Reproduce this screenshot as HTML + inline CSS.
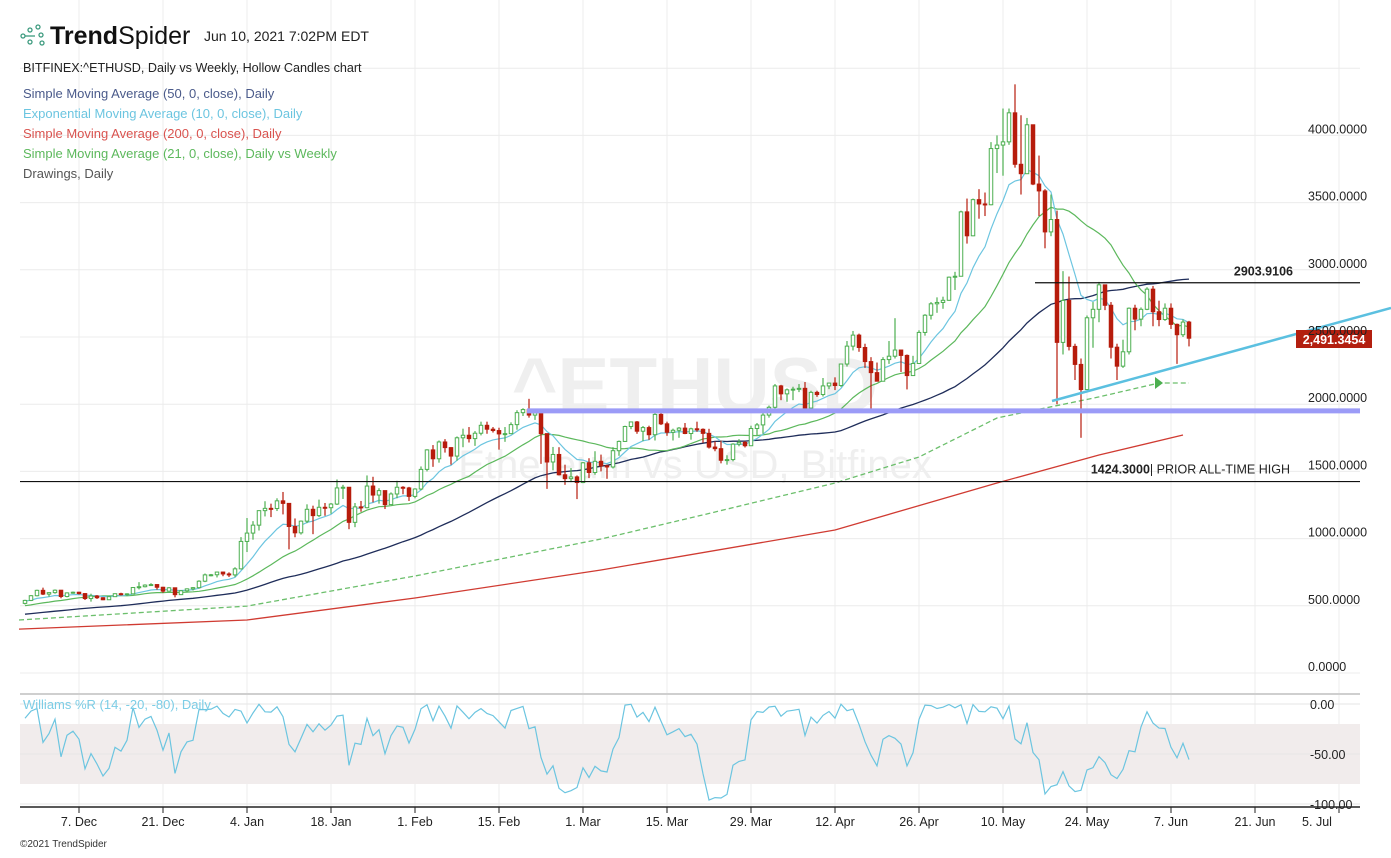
<!DOCTYPE html>
<html><head><meta charset="utf-8"><style>
body{margin:0;background:#fff;font-family:"Liberation Sans",sans-serif;}
svg text{font-family:"Liberation Sans",sans-serif;}
</style></head><body>
<svg id="c" width="1391" height="853" viewBox="0 0 1391 853" xmlns="http://www.w3.org/2000/svg">
<rect width="1391" height="853" fill="#fff"/>
<g id="grid"></g>
<g>
<text x="695" y="412" text-anchor="middle" font-size="78" font-weight="bold" fill="#efefef">^ETHUSD</text>
<text x="695" y="478" text-anchor="middle" font-size="40" fill="#efefef">Ethereum vs USD, Bitfinex</text>
</g>
<g id="williams-band"></g>
<g id="lines"></g>
<g id="candles"></g>
<g id="draw"></g>
<g id="axes"></g>
<g>
<g fill="none" stroke="#3c9a7e" stroke-width="1.3">
<circle cx="23" cy="36" r="2"/><circle cx="30" cy="30" r="2"/><circle cx="30" cy="42" r="2"/><circle cx="38" cy="27" r="2"/><circle cx="41" cy="35" r="2"/><circle cx="42" cy="43" r="2"/><line x1="25" y1="36" x2="35" y2="36"/>
</g>
<text x="50" y="44" font-size="25" fill="#111"><tspan font-weight="bold">Trend</tspan>Spider</text>
<text x="204" y="41" font-size="14" fill="#222">Jun 10, 2021 7:02PM EDT</text>
<text x="23" y="72" font-size="12.6" fill="#222">BITFINEX:^ETHUSD, Daily vs Weekly, Hollow Candles chart</text>
<text x="23" y="98" font-size="13" fill="#4a5a8a">Simple Moving Average (50, 0, close), Daily</text>
<text x="23" y="118" font-size="13" fill="#6cc5e0">Exponential Moving Average (10, 0, close), Daily</text>
<text x="23" y="138" font-size="13" fill="#d9534f">Simple Moving Average (200, 0, close), Daily</text>
<text x="23" y="158" font-size="13" fill="#5cb85c">Simple Moving Average (21, 0, close), Daily vs Weekly</text>
<text x="23" y="178" font-size="13" fill="#555">Drawings, Daily</text>
<text x="23" y="709" font-size="13" fill="#7ccde6">Williams %R (14, -20, -80), Daily</text>
<text x="20" y="847" font-size="10" fill="#333">©2021 TrendSpider</text>
</g>
</svg>
<script>
const priorCloses=[366,370,375,387,381,379,377,366,368,377,379,368,392,413,409,412,406,393,404,388,386,383,386,396,383,387,402,415,455,435,453,444,449,463,462,475,461,447,460,480,479,471,509,549,558,607,604,569,518,518];
const closes=[540,575,615,
587,598,616,569,596,601,591,554,573,560,545,568,590,586,589,636,642,654,658,638,609,634,583,612,626,635,683,730,731,751,737,
730,775,979,1041,1100,1208,1225,1224,1281,1262,1090,1043,1130,1218,1171,1233,1230,1257,1377,1382,1121,1236,1230,1391,1324,1357,1253,1332,1382,1377,1314,
1369,1515,1660,1594,1719,1677,1614,1750,1769,1744,1784,1843,1814,1804,1779,1781,1848,1937,1960,1919,1935,1781,1570,1626,1475,1446,1459,1417,
1564,1492,1575,1541,1533,1654,1723,1834,1868,1799,1826,1773,1924,1854,1791,1806,1822,1782,1817,1813,1783,1681,1669,1583,1588,1703,1716,1691,1819,1846,1919,
1977,2136,2077,2107,2112,2118,1971,2088,2072,2136,2157,2139,2299,2432,2514,2422,2317,2235,2171,2332,2357,2403,2363,2213,2303,2534,2662,2747,2757,2773,
2945,2952,3431,3253,3522,3490,3484,3902,3928,3952,4168,3785,3715,4079,3638,3587,3282,3374,2460,2772,2430,2296,2109,2643,2706,2888,2736,2424,2283,2390,2714,
2633,2706,2856,2688,2630,2714,2594,2517,2611,2491];
const highs=[545,580,620,
635,600,622,618,600,606,604,594,590,580,563,570,592,597,593,640,676,660,668,660,641,639,636,617,630,639,690,740,737,755,754,
749,787,1011,1153,1130,1210,1278,1260,1300,1347,1263,1150,1135,1255,1245,1290,1265,1265,1440,1400,1380,1265,1280,1470,1460,1375,1357,1344,1430,1390,1385,
1375,1537,1665,1696,1730,1740,1680,1760,1818,1830,1800,1870,1870,1830,1825,1830,1865,1955,1970,2040,1950,1940,1780,1682,1680,1550,1525,1470,
1570,1598,1650,1625,1550,1680,1730,1840,1870,1875,1838,1840,1945,1940,1870,1818,1830,1860,1825,1870,1820,1817,1723,1730,1620,1710,1740,1725,1840,1860,1953,
1990,2150,2144,2117,2130,2150,2165,2100,2100,2195,2160,2200,2300,2470,2545,2525,2450,2350,2310,2350,2470,2640,2380,2370,2360,2550,2670,2760,2795,2800,
2950,2985,3440,3530,3530,3600,3575,3950,4000,4200,4200,4380,4150,4130,4050,3850,3600,3560,3440,2990,2950,2450,2340,2660,2760,2910,2890,2760,2450,2480,2720,
2740,2720,2870,2880,2770,2750,2750,2600,2630,2620];
const lows=[510,535,570,
580,568,590,556,563,590,584,543,531,551,542,544,566,577,573,588,622,637,648,620,597,606,563,580,601,614,628,676,719,711,720,
714,715,770,900,992,1060,1165,1160,1205,1180,920,1010,1030,1115,1033,1160,1170,1185,1250,1295,1070,1085,1200,1225,1270,1260,1220,1250,1300,1330,1280,
1300,1360,1500,1534,1565,1640,1550,1580,1680,1715,1690,1768,1780,1789,1662,1720,1777,1810,1912,1900,1883,1556,1370,1508,1470,1400,1420,1294,
1413,1450,1475,1500,1445,1522,1616,1720,1814,1780,1725,1735,1730,1845,1765,1730,1750,1777,1736,1795,1713,1670,1650,1560,1550,1575,1687,1678,1689,1770,1780,
1900,1950,2030,2018,2030,2090,1940,1962,2055,2057,2112,2105,2129,2280,2400,2390,2270,1950,2170,2170,2300,2340,2240,2110,2210,2300,2510,2630,2680,2710,
2770,2850,2960,3195,3250,3380,3400,3480,3720,3700,3930,3760,3560,3740,3630,3400,3160,3250,2000,2370,2400,2180,1750,2110,2420,2610,2700,2340,2180,2270,2370,
2550,2580,2700,2580,2580,2620,2560,2300,2500,2430];
const sma200Days=[-1,37,65,96,135,162,179,193];
const sma200Vals=[327,394,558,766,1064,1414,1622,1771];
const weeklyDays=[-1,37,65,96,113,135,149,162,179,189];
const weeklyVals=[394,498,722,997,1176,1414,1607,1897,2054,2158];
const priceTicks=[0,500,1000,1500,2000,2500,3000,3500,4000];
const dateTickDays=[9,23,37,51,65,79,93,107,121,135,149,163,177,191,205,219];
const dateTickLabels=["7. Dec","21. Dec","4. Jan","18. Jan","1. Feb","15. Feb","1. Mar","15. Mar","29. Mar","12. Apr","26. Apr","10. May","24. May","7. Jun","21. Jun","5. Jul"];
const wTicks=[0,-50,-100];
const lastPrice=2491.3454, resistance=2903.9106, priorAth=1424.30, supportLevel=1950;

const NS="http://www.w3.org/2000/svg";
const X=i=>25+6*i, Y=p=>673-0.1344*p, W=v=>704-v;
function mk(parent,tag,attrs){const e=document.createElementNS(NS,tag);for(const k in attrs)e.setAttribute(k,attrs[k]);document.getElementById(parent).appendChild(e);return e;}
for(const p of priceTicks.concat([4500])){const l=mk('grid','line',{x1:20,x2:1360,y1:Y(p),y2:Y(p),stroke:'#ececec'});

}
dateTickDays.forEach((d,k)=>{const l=mk('grid','line',{x1:X(d),x2:X(d),y1:0,y2:807,stroke:'#ececec'});


const t=mk('axes','line',{x1:X(d),x2:X(d),y1:807,y2:813,stroke:'#222'});


const tx=mk('axes','text',{x:Math.min(X(d),1317),y:826,'text-anchor':'middle','font-size':12.5,fill:'#222'});tx.textContent=dateTickLabels[k];

});
priceTicks.forEach(p=>{const t=mk('axes','text',{x:1308,y:Y(p)-2,'font-size':12.5,fill:'#222'});t.textContent=p.toFixed(4);

});
const sep=mk('axes','line',{x1:20,x2:1360,y1:694,y2:694,stroke:'#cfcfcf','stroke-width':2});


const band=mk('williams-band','rect',{x:20,y:W(-20),width:1340,height:60,fill:'#f1ecec'});


for(const v of [0,-50,-100]){const l=mk('williams-band','line',{x1:20,x2:1360,y1:W(v),y2:W(v),stroke:'#e6e6e6'});

}
wTicks.forEach(v=>{const t=mk('axes','text',{x:1310,y:W(v)+5,'font-size':12.5,fill:'#222'});t.textContent=v.toFixed(2);

});
const ax=mk('axes','line',{x1:20,x2:1360,y1:807,y2:807,stroke:'#222','stroke-width':1.5});


const all=priorCloses.concat(closes), off=priorCloses.length;
function sma(n,i){let s=0,c=0;for(let j=Math.max(0,i-n+1);j<=i;j++){s+=all[j];c++;}return s/c;}
let ema=all[0];const emaA=[];for(let j=0;j<all.length;j++){ema=j?ema+(all[j]-ema)*2/11:all[j];emaA.push(ema);}
function path(pts){return pts.map((p,k)=>(k?'L':'M')+p[0].toFixed(1)+','+p[1].toFixed(1)).join('');}
const s200=mk('lines','path',{d:path(sma200Days.map((d,k)=>[X(d),Y(sma200Vals[k])])),fill:'none',stroke:'#d03b32','stroke-width':1.3});


const wk=mk('lines','path',{d:path(weeklyDays.map((d,k)=>[X(d),Y(weeklyVals[k])]))+'L'+X(194)+','+Y(weeklyVals[weeklyVals.length-1]),fill:'none',stroke:'#6cbf6c','stroke-width':1.3,'stroke-dasharray':'5,3'});


const arrowP=weeklyVals[weeklyVals.length-1];
const ar=mk('lines','path',{d:`M${X(189)-4},${Y(arrowP)-6}L${X(189)+4},${Y(arrowP)}L${X(189)-4},${Y(arrowP)+6}Z`,fill:'#4caf50'});


const s50=mk('lines','path',{d:path(closes.map((c,i)=>[X(i),Y(sma(50,i+off))])),fill:'none',stroke:'#1f2d5a','stroke-width':1.3});


const s21=mk('lines','path',{d:path(closes.map((c,i)=>[X(i),Y(sma(21,i+off))])),fill:'none',stroke:'#5cb85c','stroke-width':1.2});


const e10=mk('lines','path',{d:path(closes.map((c,i)=>[X(i),Y(emaA[i+off])])),fill:'none',stroke:'#6cc5e0','stroke-width':1.2});


const wr=closes.map((c,i)=>{let hh=-1e9,ll=1e9;for(let j=Math.max(0,i-13);j<=i;j++){hh=Math.max(hh,highs[j]);ll=Math.min(ll,lows[j]);}return hh===ll?-50:-100*(hh-c)/(hh-ll);});
const wl=mk('williams-band','path',{d:path(wr.map((v,i)=>[X(i),W(v)])),fill:'none',stroke:'#6cc5e0','stroke-width':1.2});


closes.forEach((c,i)=>{const o=i?closes[i-1]:priorCloses[priorCloses.length-1];const up=c>=o;const col=up?'#4caf50':'#b71c0c';const x=X(i);
const wick=mk('candles','line',{x1:x,x2:x,y1:Y(highs[i]),y2:Y(lows[i]),stroke:col,'stroke-width':1.2});


const top=Y(Math.max(o,c)),h=Math.max(1,Math.abs(Y(o)-Y(c)));
const b=mk('candles','rect',{x:x-1.75,y:top,width:3.5,height:h,fill:up?'#fff':col,stroke:col,'stroke-width':1});

});
const sup=mk('draw','line',{x1:527,x2:1360,y1:Y(supportLevel),y2:Y(supportLevel),stroke:'#9b9bf7','stroke-width':5});


const ath=mk('draw','line',{x1:20,x2:1360,y1:Y(priorAth),y2:Y(priorAth),stroke:'#111','stroke-width':1.2});


const res=mk('draw','line',{x1:1035,x2:1360,y1:Y(resistance),y2:Y(resistance),stroke:'#111','stroke-width':1.2});


const tr=mk('draw','line',{x1:1052,y1:401,x2:1391,y2:308,stroke:'#5bc0e0','stroke-width':2.5});


const rl=mk('draw','text',{x:1293,y:Y(resistance)-7,'text-anchor':'end','font-size':12.5,'font-weight':'bold',fill:'#222'});rl.textContent=resistance.toFixed(4);


const al=mk('draw','text',{x:1290,y:Y(priorAth)-8,'text-anchor':'end','font-size':12.5,fill:'#222'});al.innerHTML='<tspan font-weight="bold">'+priorAth.toFixed(4)+'</tspan>| PRIOR ALL-TIME HIGH';


const pb=mk('draw','rect',{x:1296,y:330,width:76,height:18,fill:'#b31f0f'});


const pt=mk('draw','text',{x:1334,y:344,'text-anchor':'middle','font-size':12.5,'font-weight':'bold',fill:'#fff'});pt.textContent=lastPrice.toLocaleString('en-US',{minimumFractionDigits:4});


</script>
</body></html>
